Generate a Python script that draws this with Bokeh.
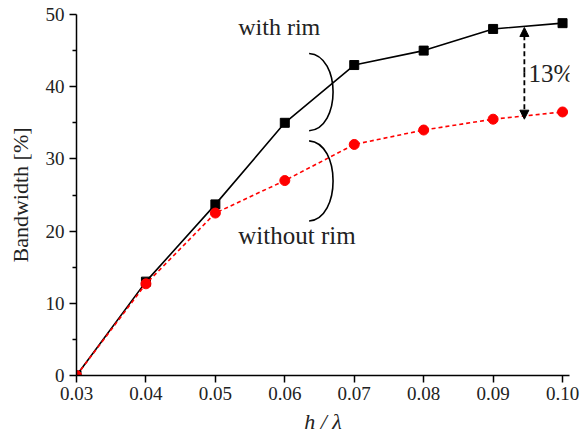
from bokeh.plotting import figure
from bokeh.models import Range1d, Label, Arrow, NormalHead, FixedTicker, ColumnDataSource
from bokeh.embed import file_html
from bokeh.resources import INLINE

# data
h_lambda = [0.03, 0.04, 0.05, 0.06, 0.07, 0.08, 0.09, 0.10]
with_rim = [0.0, 13.0, 23.7, 35.0, 43.0, 45.0, 48.0, 48.8]
without_rim = [0.0, 12.7, 22.5, 27.0, 32.0, 34.0, 35.5, 36.5]
x_ticks = [0.03, 0.04, 0.05, 0.06, 0.07, 0.08, 0.09, 0.10]
x_tick_labels = {0.03: "0.03", 0.04: "0.04", 0.05: "0.05", 0.06: "0.06",
                 0.07: "0.07", 0.08: "0.08", 0.09: "0.09", 0.10: "0.10"}
y_ticks = [0, 10, 20, 30, 40, 50]
y_minor = [5, 15, 25, 35, 45]

FONT = "Liberation Serif"

p = figure(width=582, height=442, output_backend="svg", toolbar_location=None,
           x_range=Range1d(0.03, 0.101), y_range=Range1d(0, 50),
           min_border_left=76, min_border_right=13, min_border_top=14, min_border_bottom=67)
p.outline_line_color = None
p.grid.visible = False
p.background_fill_color = "white"

p.xaxis.ticker = FixedTicker(ticks=x_ticks)
p.xaxis.major_label_overrides = x_tick_labels
p.yaxis.ticker = FixedTicker(ticks=y_ticks, minor_ticks=y_minor)
for ax in (p.xaxis[0], p.yaxis[0]):
    ax.axis_line_color = "black"
    ax.axis_line_width = 1.5
    ax.major_tick_line_color = "black"
    ax.major_tick_line_width = 1.5
    ax.major_tick_in = 0
    ax.major_tick_out = 7
    ax.major_label_text_font = FONT
    ax.major_label_text_font_size = "19px"
    ax.major_label_text_color = "#222222"
    ax.axis_label_text_font = FONT
    ax.axis_label_text_font_style = "normal"
    ax.axis_label_text_font_size = "22px"
    ax.axis_label_text_color = "#222222"
p.xaxis.minor_tick_line_color = None
p.yaxis.minor_tick_line_color = "black"
p.yaxis.minor_tick_line_width = 1.5
p.yaxis.minor_tick_in = 0
p.yaxis.minor_tick_out = 4
p.yaxis.axis_label = "Bandwidth [%]"
p.yaxis.axis_label_standoff = 10
p.xaxis.major_label_standoff = 4
p.xaxis.axis_label = "h / λ"
p.xaxis.axis_label_text_font_style = "italic"
p.xaxis.axis_label_standoff = 6

src = ColumnDataSource(dict(x=h_lambda, w=with_rim, wo=without_rim))
p.line("x", "w", source=src, line_color="black", line_width=1.6)
p.scatter("x", "w", source=src, marker="square", size=9, fill_color="black", line_color="black")
p.line("x", "wo", source=src, line_color="red", line_width=1.6, line_dash="4 3")
p.scatter("x", "wo", source=src, marker="circle", size=10, fill_color="red", line_color="red")

# brackets
p.bezier(x0=[0.0635, 0.0635], y0=[44.6, 32.5], x1=[0.0635, 0.0635], y1=[33.9, 21.4],
         cx0=[0.0681, 0.0681], cy0=[44.3, 32.2], cx1=[0.0681, 0.0681], cy1=[34.2, 21.7],
         line_color="black", line_width=1.6)

# annotations
p.add_layout(Label(x=0.0533, y=46.5, text="with rim", text_font=FONT, text_font_size="24px",
                   text_color="#222222"))
p.add_layout(Label(x=0.0533, y=17.5, text="without rim", text_font=FONT, text_font_size="25px",
                   text_color="#222222"))
p.add_layout(Label(x=0.0951, y=41.8, text="13%", text_font=FONT, text_font_size="25px",
                   text_color="#222222", text_baseline="middle"))
p.add_layout(Arrow(x_start=0.0945, y_start=42.0, x_end=0.0945, y_end=48.2,
                   line_color="black", line_width=1.8, line_dash="5 3",
                   end=NormalHead(size=9, fill_color="black", line_color="black"), start=None))
p.add_layout(Arrow(x_start=0.0945, y_start=42.0, x_end=0.0945, y_end=35.5,
                   line_color="black", line_width=1.8, line_dash="5 3",
                   end=NormalHead(size=9, fill_color="black", line_color="black"), start=None))

open("out.html", "w").write(file_html(p, INLINE))
